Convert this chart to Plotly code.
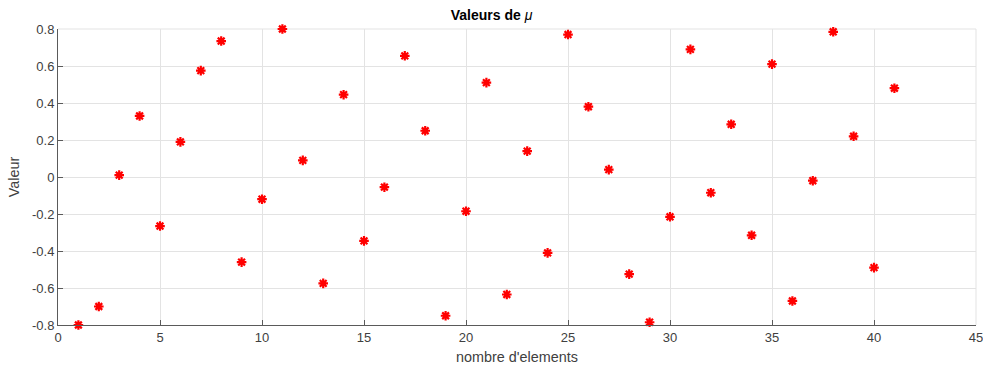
import plotly.graph_objects as go

# Element index and the corresponding mu values
elements = list(range(1, 42))
mu_values = [
    -0.800, -0.700, 0.010, 0.330, -0.265, 0.190, 0.575, 0.735, -0.460, -0.120,
    0.800, 0.090, -0.575, 0.445, -0.345, -0.055, 0.655, 0.250, -0.750, -0.185,
    0.510, -0.635, 0.140, -0.410, 0.770, 0.380, 0.040, -0.525, -0.785, -0.215,
    0.690, -0.085, 0.285, -0.315, 0.610, -0.670, -0.020, 0.785, 0.220, -0.490,
    0.480,
]

x_ticks = [0, 5, 10, 15, 20, 25, 30, 35, 40, 45]
y_ticks = [-0.8, -0.6, -0.4, -0.2, 0, 0.2, 0.4, 0.6, 0.8]
y_tick_text = ["-0.8", "-0.6", "-0.4", "-0.2", "0", "0.2", "0.4", "0.6", "0.8"]

text_color = "#404040"
axis_color = "#5a5a5a"
grid_color = "#e3e3e3"
font_family = "Liberation Sans, Arial, sans-serif"

fig = go.Figure(
    go.Scatter(
        x=elements,
        y=mu_values,
        mode="markers",
        cliponaxis=False,
        marker=dict(
            symbol="asterisk-open",
            size=8,
            color="#ff0000",
            line=dict(color="#ff0000", width=2.2),
        ),
        showlegend=False,
    )
)

# light grid-coloured frame along the top and right edges of the plot area
fig.add_shape(type="line", xref="paper", yref="paper", x0=0, x1=1, y0=1, y1=1,
              line=dict(color=grid_color, width=1), layer="below")
fig.add_shape(type="line", xref="paper", yref="paper", x0=1, x1=1, y0=0, y1=1,
              line=dict(color=grid_color, width=1), layer="below")

fig.update_layout(
    width=983,
    height=367,
    margin=dict(l=58, r=7, t=29, b=42, autoexpand=False),
    paper_bgcolor="white",
    plot_bgcolor="white",
    font=dict(family=font_family, size=12, color=text_color),
    title=dict(
        text="<b>Valeurs de </b><i>μ</i>",
        x=0.5,
        xanchor="center",
        y=1,
        yref="paper",
        yanchor="bottom",
        pad=dict(b=9),
        font=dict(family=font_family, size=14, color="#000000"),
    ),
)

fig.update_xaxes(
    range=[0, 45],
    automargin=False,
    ticklabeloverflow="allow",
    tickmode="array",
    tickvals=x_ticks,
    ticktext=[str(v) for v in x_ticks],
    ticks="inside",
    ticklen=5,
    tickcolor=axis_color,
    showline=True,
    linecolor=axis_color,
    linewidth=1,
    showgrid=True,
    gridcolor=grid_color,
    gridwidth=1,
    zeroline=False,
    tickfont=dict(size=13, color=text_color),
    title=dict(text="nombre d'elements", standoff=8,
               font=dict(size=14.4, color=text_color)),
)

fig.update_yaxes(
    range=[-0.8, 0.8],
    automargin=False,
    ticklabeloverflow="allow",
    tickmode="array",
    tickvals=y_ticks,
    ticktext=y_tick_text,
    ticks="inside",
    ticklen=5,
    tickcolor=axis_color,
    showline=True,
    linecolor=axis_color,
    linewidth=1,
    showgrid=True,
    gridcolor=grid_color,
    gridwidth=1,
    zeroline=False,
    tickfont=dict(size=13, color=text_color),
    title=dict(text="Valeur", standoff=8,
               font=dict(size=14.4, color=text_color)),
)

fig.write_html("out.html")
